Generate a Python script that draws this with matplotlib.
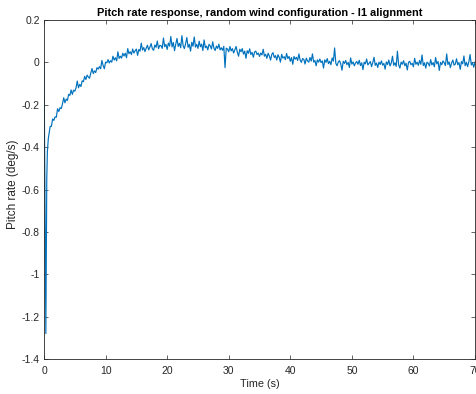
import numpy as np
import matplotlib
matplotlib.use("Agg")
import matplotlib.pyplot as plt
from matplotlib.ticker import FuncFormatter

# initial drop right after the wind hits (s, deg/s)
t_start = [0.0, 0.15, 0.3, 0.38, 0.45, 0.55, 0.7, 0.85]
q_start = [0.0, -0.6, -1.28, -0.9, -0.55, -0.42, -0.36, -0.33]

# pitch rate sampled every 0.2 s from t = 1 s to t = 70 s
q_main = [
    -0.302, -0.302, -0.267, -0.274, -0.257, -0.259, -0.219, -0.232, -0.214, -0.218,
    -0.196, -0.167, -0.191, -0.173, -0.180, -0.151, -0.156, -0.130, -0.151, -0.131,
    -0.136, -0.121, -0.088, -0.120, -0.104, -0.114, -0.087, -0.091, -0.066, -0.081,
    -0.060, -0.069, -0.075, -0.050, -0.029, -0.053, -0.040, -0.048, -0.025, -0.032,
    -0.020, -0.030, 0.009, -0.015, -0.030, 0.001, -0.002, 0.013, -0.003, 0.008,
    0.001, 0.029, 0.011, 0.022, 0.007, 0.050, 0.019, 0.029, 0.020, 0.043,
    0.030, 0.043, 0.022, 0.065, 0.041, 0.050, 0.037, 0.063, 0.044, 0.055,
    0.063, 0.033, 0.061, 0.053, 0.091, 0.058, 0.070, 0.051, 0.067, 0.081,
    0.059, 0.072, 0.089, 0.064, 0.057, 0.082, 0.071, 0.101, 0.065, 0.080,
    0.079, 0.066, 0.115, 0.074, 0.085, 0.061, 0.091, 0.077, 0.122, 0.073,
    0.094, 0.055, 0.086, 0.113, 0.075, 0.090, 0.069, 0.126, 0.078, 0.065,
    0.089, 0.117, 0.071, 0.085, 0.053, 0.095, 0.076, 0.120, 0.072, 0.085,
    0.066, 0.100, 0.074, 0.086, 0.056, 0.106, 0.069, 0.077, 0.059, 0.085,
    0.078, 0.063, 0.097, 0.067, 0.056, 0.077, 0.066, 0.086, 0.059, 0.069,
    0.057, 0.076, -0.025, 0.067, 0.063, 0.050, 0.075, 0.054, 0.065, 0.044,
    0.060, 0.075, 0.048, 0.029, 0.062, 0.050, 0.065, 0.039, 0.053, 0.019,
    0.055, 0.043, 0.064, 0.037, 0.047, 0.024, 0.049, 0.053, 0.037, 0.044,
    0.028, 0.044, 0.035, 0.062, 0.029, 0.038, 0.019, 0.043, 0.030, 0.011,
    0.038, 0.046, 0.023, 0.032, 0.011, 0.036, 0.024, 0.001, 0.038, 0.020,
    0.027, 0.013, 0.042, 0.018, 0.028, 0.005, 0.023, -0.009, 0.028, 0.015,
    0.024, 0.009, 0.040, 0.011, 0.000, 0.018, 0.014, -0.008, 0.020, 0.007,
    0.001, 0.023, 0.006, 0.040, 0.001, 0.009, -0.016, 0.012, 0.001, 0.016,
    -0.001, 0.007, -0.027, 0.012, 0.000, 0.018, -0.006, 0.005, -0.011, 0.021,
    0.006, 0.068, -0.005, -0.016, 0.002, 0.008, -0.008, -0.037, 0.005, -0.005,
    0.009, -0.011, 0.000, -0.024, 0.021, -0.008, 0.002, -0.016, -0.003, 0.004,
    -0.009, 0.010, -0.015, -0.002, -0.034, 0.001, -0.007, 0.016, -0.012, -0.004,
    0.004, -0.020, -0.001, 0.024, -0.014, -0.003, -0.024, 0.001, -0.010, 0.007,
    -0.013, -0.005, -0.032, 0.002, -0.010, 0.011, -0.017, -0.003, 0.029, -0.014,
    -0.002, -0.019, 0.053, -0.011, -0.027, 0.001, -0.009, 0.008, -0.016, -0.004,
    -0.036, 0.000, 0.005, -0.011, -0.004, -0.021, 0.019, -0.009, 0.001, -0.014,
    0.009, -0.009, 0.035, -0.015, -0.002, -0.027, 0.001, -0.004, -0.017, 0.013,
    -0.012, -0.001, -0.021, 0.023, -0.007, 0.004, -0.038, 0.000, -0.011, 0.007,
    -0.002, -0.015, 0.040, -0.010, 0.002, -0.025, -0.003, 0.011, -0.013, -0.008,
    0.017, -0.011, -0.001, -0.033, 0.004, -0.007, 0.030, -0.016, 0.000, -0.020,
    0.003, 0.037, -0.012, -0.002, -0.023, 0.001,
]
t_main = np.linspace(1.0, 70.0, len(q_main))

x_ticks = [0, 10, 20, 30, 40, 50, 60, 70]
y_ticks = [-1.4, -1.2, -1.0, -0.8, -0.6, -0.4, -0.2, 0.0, 0.2]

time = np.concatenate([t_start, t_main])
q = np.concatenate([q_start, q_main])

plt.rcParams['font.family'] = ['Liberation Sans', 'DejaVu Sans']
plt.rcParams['axes.unicode_minus'] = False

dark = '#262626'
fig = plt.figure(figsize=(4.76, 3.94), dpi=100)
ax = fig.add_axes([44 / 476, 35 / 394, 431 / 476, 339 / 394])

ax.plot(time, q, color='#0072BD', linewidth=0.85)

ax.set_xlim(0, 70)
ax.set_ylim(-1.4, 0.2)
ax.set_xticks(x_ticks)
ax.set_yticks(y_ticks)
ax.xaxis.set_major_formatter(FuncFormatter(lambda v, p: '%g' % v))
ax.yaxis.set_major_formatter(FuncFormatter(lambda v, p: '%g' % round(v, 1)))
ax.tick_params(direction='in', length=3, width=0.5, top=True, right=True,
               colors=dark, labelsize=7.5)
ax.tick_params(axis='x', pad=5)
ax.tick_params(axis='y', pad=3)
for s in ax.spines.values():
    s.set_linewidth(0.6)
    s.set_color(dark)

ax.set_title('Pitch rate response, random wind configuration - I1 alignment',
             fontsize=7.9, fontweight='bold', color='black', pad=3)
ax.set_xlabel('Time (s)', fontsize=7.8, color=dark, labelpad=2)
ax.set_ylabel('Pitch rate (deg/s)', fontsize=8.5, color=dark)
ax.yaxis.set_label_coords(-0.058, 0.516)

fig.savefig('out.png', dpi=100)
